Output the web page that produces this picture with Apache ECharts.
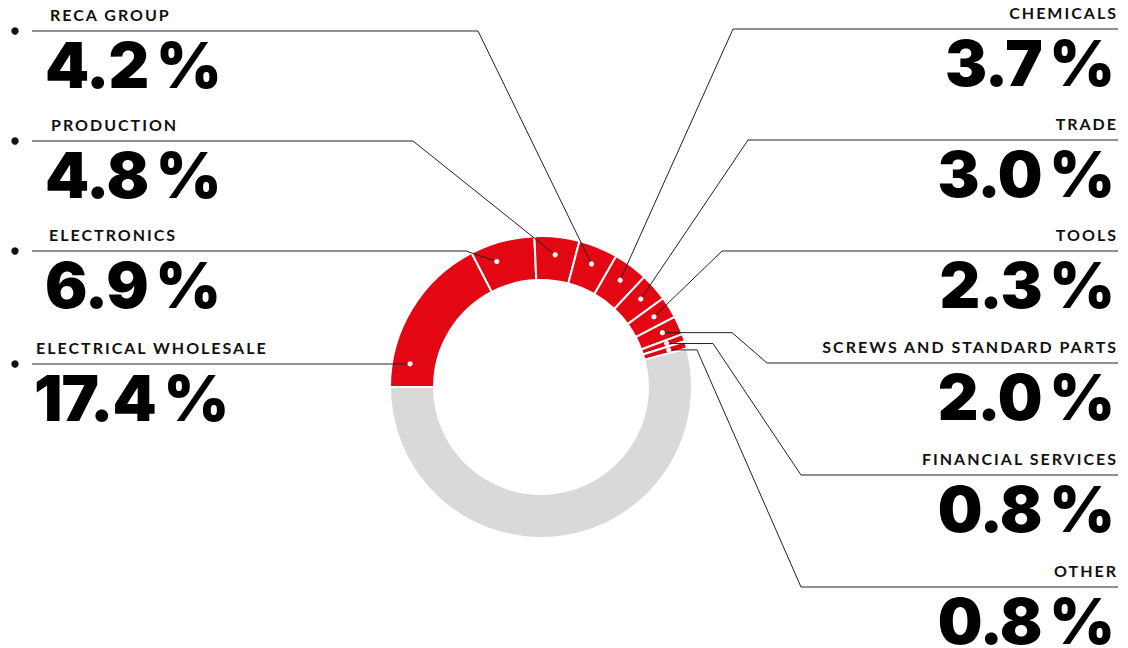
<!DOCTYPE html>
<html>
<head>
<meta charset="utf-8">
<script src="https://cdn.jsdelivr.net/npm/echarts@6/dist/echarts.min.js"></script>
<style>
  html, body { margin: 0; padding: 0; background: #fff; }
  #chart { width: 1128px; height: 648px; }
  /* tracking for the category names and the big share figures */
  #chart text[style*="16px"] { letter-spacing: 2px; }
  #chart text[style*="63px"] { letter-spacing: -1px; }
</style>
</head>
<body>
<div id="chart"></div>
<script>
// Revenue share by business unit, in percent
const categories = [
  'ELECTRICAL WHOLESALE', 'ELECTRONICS', 'PRODUCTION', 'RECA GROUP', 'CHEMICALS',
  'TRADE', 'TOOLS', 'SCREWS AND STANDARD PARTS', 'FINANCIAL SERVICES', 'OTHER'
];
const shares = [17.4, 6.9, 4.8, 4.2, 3.7, 3.0, 2.3, 2.0, 0.8, 0.8];
const remainder = Math.round((100 - shares.reduce((a, b) => a + b, 0)) * 10) / 10;

// Callout layout for each slice: which side its label sits on, the y of its rule,
// where along the slice the leader starts, and where the leader bends.
const callouts = [
  { side: 'left',  y: 364, frac: 0.16, textX: 36, pctX: 34 },
  { side: 'left',  y: 251, frac: 0.32, textX: 49, pctX: 45, bend: [466, 'rule'] },
  { side: 'left',  y: 141, frac: 0.5,  textX: 51, pctX: 45, bend: [413, 'rule'] },
  { side: 'left',  y: 31,  frac: 0.5,  textX: 50, pctX: 45, bend: [478, 'rule'] },
  { side: 'right', y: 29,  frac: 0.5, bend: [733, 'rule'] },
  { side: 'right', y: 140, frac: 0.5, bend: [748, 'rule'] },
  { side: 'right', y: 251, frac: 0.5, bend: [722, 'rule'] },
  { side: 'right', y: 363, frac: 0.5, bend: [732, 'dot'], ruleX: 767 },
  { side: 'right', y: 475, frac: 0.5, bend: [713, 'dot'], ruleX: 801 },
  { side: 'right', y: 587, frac: 0.5, bend: [697, 'dot'], ruleX: 801 }
];

const RED = '#e30613';
const GREY = '#d9d9d9';
const INK = '#111';
const NAME_FONT = 'bold 16px Lato, "Open Sans", sans-serif';
const PCT_FONT = '900 63px Inter, "Noto Sans", sans-serif';

const chart = echarts.init(document.getElementById('chart'), null, { renderer: 'svg' });

const pieData = categories.map((name, i) => ({
  name, value: shares[i], itemStyle: { color: RED }
}));
pieData.push({ name: 'rest', value: remainder, itemStyle: { color: GREY } });

chart.setOption({
  animation: false,
  backgroundColor: '#fff',
  series: [{
    type: 'pie',
    center: [541, 387],
    radius: [107, 151],
    startAngle: 180,
    clockwise: true,
    silent: true,
    label: { show: false },
    labelLine: { show: false },
    itemStyle: { borderColor: '#fff', borderWidth: 2 },
    data: pieData
  }]
});

// Leader lines, anchor dots and labels, placed from the pie's own slice layout
const data = chart.getModel().getSeriesByIndex(0).getData();
const graphics = [];
const dotR = 133;

callouts.forEach((c, i) => {
  const lay = data.getItemLayout(i);
  const a = lay.startAngle + c.frac * (lay.endAngle - lay.startAngle);
  const dx = lay.cx + dotR * Math.cos(a);
  const dy = lay.cy + dotR * Math.sin(a);
  const left = c.side === 'left';
  const ruleEnd = left ? 32 : 1118;
  const pts = [[dx, dy]];
  if (c.bend) {
    if (c.bend[1] === 'rule') {
      pts.push([c.bend[0], c.y]);
    } else {
      pts.push([c.bend[0], dy]);
      pts.push([c.ruleX, c.y]);
    }
  } else {
    pts.push([dx, c.y]);
  }
  pts.push([ruleEnd, c.y]);

  graphics.push({
    type: 'polyline', silent: true, z: 10,
    shape: { points: pts },
    style: { stroke: '#222', lineWidth: 1, fill: null }
  });
  graphics.push({
    type: 'circle', silent: true, z: 11,
    shape: { cx: dx, cy: dy, r: 2.6 },
    style: { fill: '#fff' }
  });
  if (left) {
    graphics.push({
      type: 'circle', silent: true, z: 11,
      shape: { cx: 15, cy: c.y, r: 3.7 },
      style: { fill: INK }
    });
  }
  const pct = shares[i].toFixed(1) + '\u2009%';
  graphics.push({
    type: 'text', silent: true, z: 12,
    style: {
      x: left ? c.textX : 1118, y: c.y - 17,
      text: categories[i], font: NAME_FONT, fill: INK,
      align: left ? 'left' : 'right', verticalAlign: 'middle'
    }
  });
  graphics.push({
    type: 'text', silent: true, z: 12,
    style: {
      x: left ? c.pctX : 1114, y: c.y + 34,
      text: pct, font: PCT_FONT, fill: '#000',
      align: left ? 'left' : 'right', verticalAlign: 'middle'
    }
  });
});

chart.setOption({ graphic: graphics });
</script>
</body>
</html>
